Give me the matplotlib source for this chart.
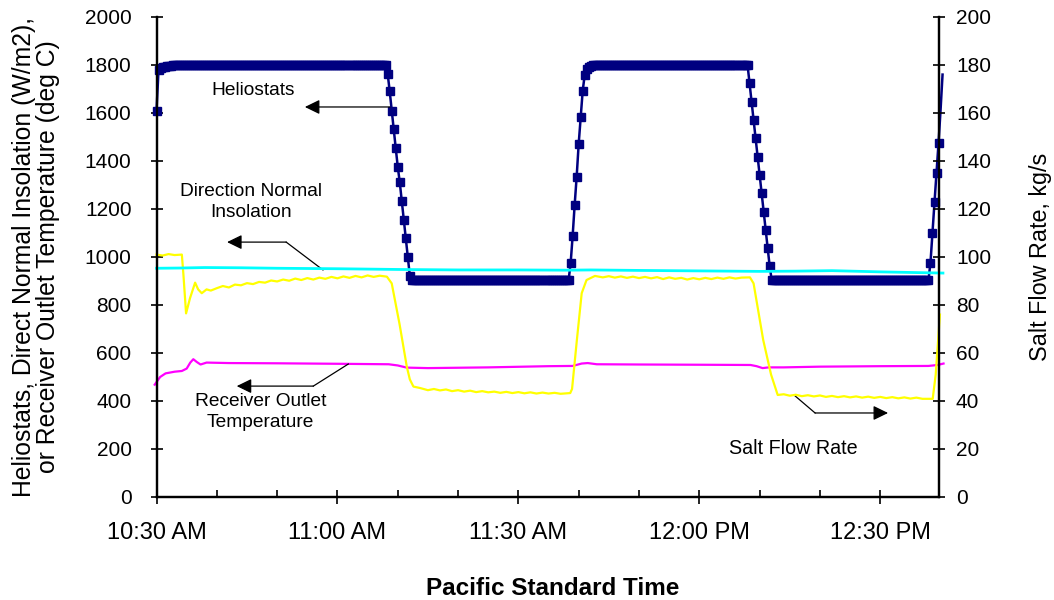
import numpy as np
import matplotlib
matplotlib.use('Agg')
import matplotlib.pyplot as plt
from matplotlib.patches import FancyArrowPatch

plt.rcParams['font.family'] = ['Liberation Sans', 'DejaVu Sans']

# heliostats on line, one sample every 20 s starting 10:30
helio_count = (
    [1610, 1780, 1786, 1790, 1793, 1795, 1796, 1797, 1798, 1799, 1799, 1800]
    + [1800] * 103
    + [1762, 1690, 1610, 1532, 1453, 1376, 1311, 1233, 1154, 1078, 1001, 922]
    + [905] * 79
    + [974, 1088, 1217, 1335, 1471, 1585, 1693, 1758, 1785, 1793, 1797]
    + [1800] * 78
    + [1724, 1647, 1571, 1494, 1418, 1342, 1268, 1189, 1112, 1036, 962]
    + [905] * 79
    + [976, 1099, 1228, 1352, 1474, 1610, 1760]
)
helio_min = np.arange(len(helio_count)) / 3.0

# direct normal insolation, W/m2
dni_min = [0, 4, 8, 14, 20, 30, 40, 50, 60, 68, 72, 80, 90, 100, 106, 112, 120, 126, 130.4]
dni_wm2 = [953, 954, 956, 955, 953, 951, 948, 946, 946, 945, 946, 944, 942, 940, 941, 943, 938, 935, 933]

# receiver outlet temperature, deg C
temp_min = [-0.3, 0.6, 1.5, 3, 4.2, 5.0, 5.6, 6.1, 6.7, 7.3,
            8.3, 12, 20, 30, 38.5, 40, 41.5, 45, 55, 65,
            69, 70.5, 71.5, 73, 80, 90, 98.5, 99.5, 100.5, 101.5,
            104, 110, 120, 128, 129.5, 130.5]
temp_c = [468, 500, 515, 522, 525, 535, 560, 574, 562, 552,
          560, 558, 557, 555, 553, 548, 539, 537, 540, 545,
          546, 556, 558, 553, 552, 551, 550, 545, 537, 540,
          540, 543, 545, 546, 550, 556]

# salt flow rate, kg/s
flow_min = [0, 1, 2, 3, 4.2, 4.45, 4.9, 5.55, 6.4, 6.9, 7.5, 8.3, 9,
            10, 11, 12, 13, 14, 15, 16, 17, 18, 19, 20, 21, 22, 23, 24,
            25, 26, 27, 28, 29, 30, 31, 32, 33, 34, 35, 36, 37, 38.2, 39,
            40.3, 41.5, 42, 42.6, 43.7, 45, 46, 47, 48, 49, 50, 51, 52, 53,
            54, 55, 56, 57, 58, 59, 60, 61, 62, 63, 64, 65, 66, 67, 68.6,
            68.9, 69.7, 70.5, 71.3, 72.7, 74, 75, 76, 77, 78, 79, 80, 81,
            82, 83, 84, 85, 86, 87, 88, 89, 90, 91, 92, 93, 94, 95, 96, 97,
            98.4, 99, 100.6, 101.9, 103, 104, 105, 106, 107, 108, 109, 110,
            111, 112, 113, 114, 115, 116, 117, 118, 119, 120, 121, 122, 123,
            124, 125, 126, 127, 128.7, 129.2, 129.9]
flow_kgs = [101.0, 100.6, 101.2, 100.8, 101.0, 93.0, 76.5, 82.8, 89.3, 86.5, 84.9, 86.5, 86.0,
            87.0, 87.9, 87.3, 88.5, 88.2, 89.1, 88.7, 89.6, 89.3, 90.2, 89.8, 90.6, 90.1, 91.0, 90.4,
            91.2, 90.6, 91.4, 90.9, 91.7, 91.1, 91.9, 91.3, 92.1, 91.5, 92.3, 91.7, 92.2, 91.8, 89.0,
            72.0, 54.3, 49.0, 46.0, 45.4, 44.5, 45.0, 44.4, 44.8, 44.1, 44.5, 43.9, 44.3, 43.7,
            44.1, 43.6, 43.9, 43.4, 43.8, 43.3, 43.7, 43.2, 43.6, 43.1, 43.5, 43.1, 43.4, 43.0, 43.3,
            45.0, 65.4, 84.9, 90.4, 92.1, 91.5, 92.0, 91.4, 91.9, 91.3, 91.8, 91.2, 91.7,
            91.1, 91.6, 90.8, 91.5, 90.9, 91.3, 90.6, 91.2, 90.7, 91.3, 90.8, 91.4, 90.9, 91.5, 91.0, 91.4,
            91.5, 89.0, 65.4, 51.0, 42.5, 42.8, 42.2, 42.6, 42.0, 42.4, 41.9, 42.3,
            41.7, 42.1, 41.6, 42.0, 41.5, 41.9, 41.4, 41.8, 41.3, 41.7, 41.2, 41.6, 41.1,
            41.5, 41.0, 41.4, 40.9, 40.9, 51.0, 76.0]

tick_min = [0, 30, 60, 90, 120]
tick_labels = ['10:30 AM', '11:00 AM', '11:30 AM', '12:00 PM', '12:30 PM']

fig = plt.figure(figsize=(10.54, 6.0), dpi=100)
ax = fig.add_axes([0.1485, 0.1717, 0.7427, 0.80])
ax2 = ax.twinx()

ax.plot(helio_min, helio_count, color='#000080', lw=1.8, marker='s', ms=5.8,
        mec='#000080', markevery=slice(0, 390), clip_on=False, zorder=3)
ax.plot(temp_min, temp_c, color='#FF00FF', lw=1.6, clip_on=False)
ax2.plot(flow_min, flow_kgs, color='#FFFF00', lw=1.6, clip_on=False)
# DNI drawn on top of the flow trace but in left-axis units
ax2.plot(dni_min, dni_wm2, color='#00FFFF', lw=2.0, transform=ax.transData, clip_on=False)

ax.set_xlim(0, 129.8)
ax.set_ylim(0, 2000)
ax2.set_ylim(0, 200)
ax.set_xticks(tick_min)
ax.set_xticklabels(tick_labels)
ax.set_xticks(np.arange(0, 130, 10), minor=True)
ax.set_yticks(range(0, 2001, 200))
ax2.set_yticks(range(0, 201, 20))

ax.tick_params(axis='x', which='major', direction='inout', length=10, width=1.2,
               labelsize=17, pad=13)
ax.tick_params(axis='x', which='minor', direction='in', length=5, width=1.2)
ax.tick_params(axis='y', direction='inout', length=8, width=1.2, labelsize=15, pad=14)
ax2.tick_params(axis='y', direction='inout', length=8, width=1.2, labelsize=15, pad=8)

for a in (ax, ax2):
    a.spines['top'].set_visible(False)
    for s in ('left', 'right', 'bottom'):
        a.spines[s].set_linewidth(1.6)

ax.set_ylabel('Heliostats, Direct Normal Insolation (W/m2),\nor Receiver Outlet Temperature (deg C)',
              fontsize=17.8, linespacing=1.02)
ax.yaxis.set_label_coords(-0.123, 0.5)
ax2.set_ylabel('Salt Flow Rate, kg/s', fontsize=16.8)
ax2.yaxis.set_label_coords(1.115, 0.5)
ax.set_xlabel('Pacific Standard Time', fontsize=17.5, fontweight='bold')
ax.xaxis.set_label_coords(0.506, -0.166)


def pointer(a, pts):
    # thin leader line ending in a filled arrow head
    xs = [p[0] for p in pts[:-1]]
    ys = [p[1] for p in pts[:-1]]
    if len(pts) > 2:
        a.plot(xs, ys, color='black', lw=0.9, zorder=5)
    arr = FancyArrowPatch(pts[-2], pts[-1], arrowstyle='-|>,head_length=0.45,head_width=0.22',
                          mutation_scale=20, color='black', lw=0.9,
                          shrinkA=0, shrinkB=0, zorder=5)
    a.add_patch(arr)


ax.text(16.0, 1692, 'Heliostats', fontsize=13.8, ha='center', va='center')
pointer(ax, [(38.7, 1625), (24.6, 1625)])

ax.text(15.7, 1229, 'Direction Normal\nInsolation', fontsize=13.8, ha='center', va='center',
        linespacing=1.3)
pointer(ax, [(27.6, 946), (21.5, 1062), (11.7, 1062)])

ax.text(17.2, 354, 'Receiver Outlet\nTemperature', fontsize=13.8, ha='center', va='center',
        linespacing=1.25)
pointer(ax, [(31.8, 554), (26.0, 462), (13.3, 462)])

ax.text(105.6, 204, 'Salt Flow Rate', fontsize=14.2, ha='center', va='center')
pointer(ax, [(105.7, 425), (109.2, 350), (121.3, 350)])

fig.savefig('out.png', dpi=100)
